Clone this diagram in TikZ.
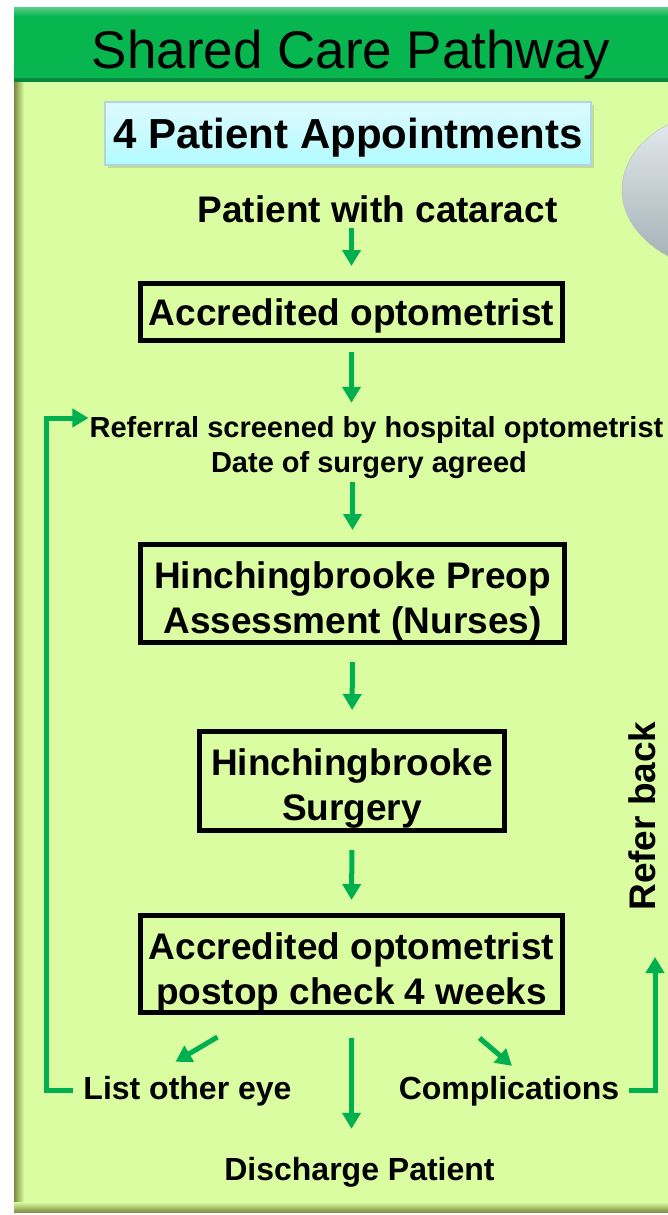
\documentclass[tikz,border=0pt]{standalone}
\usepackage{fontspec}
\setmainfont{Liberation Sans}
\usepackage{tikz}
\usetikzlibrary{calc,positioning,arrows.meta,shadows}

\definecolor{panelgreen}{RGB}{217,253,160}
\definecolor{headgreen}{RGB}{8,182,80}
\definecolor{flowgreen}{RGB}{0,176,80}
\definecolor{apptfill}{RGB}{222,250,255}
\definecolor{apptline}{RGB}{178,214,224}
\definecolor{bubbletop}{RGB}{232,237,239}
\definecolor{bubblebot}{RGB}{160,174,180}

\tikzset{
    stage/.style={draw=black, line width=5pt, inner sep=0pt},
    stagetext/.style={align=center, inner sep=0pt,
        font=\bfseries\fontsize{37}{45}\selectfont},
    bigtext/.style={anchor=base, inner sep=0pt, text height=27pt, text depth=7pt,
        font=\bfseries\fontsize{37}{45}\selectfont},
    smalltext/.style={anchor=base, inner sep=0pt, text height=21pt, text depth=6pt,
        font=\bfseries\fontsize{29}{35}\selectfont},
    endtext/.style={anchor=base, inner sep=0pt, text height=24pt, text depth=7pt,
        font=\bfseries\fontsize{32}{38}\selectfont},
    flow/.style={draw=flowgreen, line width=5pt, -{Triangle[width=18pt,length=16pt]}}
}

\begin{document}
\begin{tikzpicture}[x=1pt,y=-1pt]
        \useasboundingbox (0,0) rectangle (668,1215);
        \clip (0,0) rectangle (668,1215);

        % panel and title bar
        \fill[panelgreen] (14,8) rectangle (680,1212);
        \shade[left color=panelgreen!55!black!70!olive, right color=panelgreen] (14,82) rectangle (24,1212);
        \shade[bottom color=panelgreen!60!black!70!olive, top color=panelgreen] (14,1202) rectangle (680,1212);
        \fill[headgreen] (14,8) rectangle (680,82);
        \shade[top color=headgreen!70!white, bottom color=headgreen] (14,8) rectangle (680,16);
        \fill[headgreen!75!black] (14,78) rectangle (680,82);
        \node[anchor=base, inner sep=0pt, font=\fontsize{53}{60}\selectfont] (title) at (351,68) {Shared Care Pathway};

        % grey bubble on the right
        \shade[top color=bubbletop, bottom color=bubblebot, draw=bubblebot!80, drop shadow={opacity=0.3}]
            (730,190) ellipse (108pt and 80pt);

        \node[draw=apptline, line width=1.5pt, top color=apptfill, bottom color=apptfill!80!cyan,
            minimum width=486pt, minimum height=63pt, inner sep=0pt, text depth=0pt, drop shadow={opacity=0.25},
            font=\bfseries\fontsize{42}{50}\selectfont] (appt) at (348,133.5) {4 Patient Appointments};

        % pathway
        \node[bigtext] (pwc) at (377.5,222) {Patient with cataract};
        \node[stage, minimum width=422pt, minimum height=57pt,
            label={[stagetext, yshift=-4pt]center:Accredited optometrist}] (acc) at (351.5,312) {};
        \node[smalltext] (ref1) at (376.5,437) {Referral screened by hospital optometrist};
        \node[smalltext] (ref2) at (369,472) {Date of surgery agreed};
        \node[stage, minimum width=424pt, minimum height=98pt,
            label={[stagetext, yshift=-8pt]center:Hinchingbrooke Preop\\Assessment (Nurses)}] (preop) at (352.5,593.5) {};
        \node[stage, minimum width=305pt, minimum height=99pt,
            label={[stagetext, yshift=-8pt]center:Hinchingbrooke\\Surgery}] (surg) at (352,781) {};
        \node[stage, minimum width=422pt, minimum height=97pt,
            label={[stagetext, yshift=-8pt]center:Accredited optometrist\\postop check 4 weeks}] (post) at (351.5,964) {};
        \node[endtext] (other) at (187.5,1099) {List other eye};
        \node[endtext] (comp) at (509,1099) {Complications};
        \node[endtext] (disc) at (359.5,1180) {Discharge Patient};
        \node[bigtext, anchor=center, rotate=90] (back) at (645,816) {Refer back};

        \coordinate (loopL) at (46,418);
        \coordinate (loopR) at (655,957);

        \draw[flow, shorten <=-1pt, shorten >=15pt] (pwc.south -| acc.south) -- (acc.north);
        \draw[flow, shorten <=9pt, shorten >=13pt] (acc.south) -- (acc.south |- ref1.north);
        \draw[flow, shorten <=4pt, shorten >=12pt] (preop.north |- ref2.south) -- (preop.north);
        \draw[flow, shorten <=17pt, shorten >=19pt] (preop.south) -- (surg.north);
        \draw[flow, shorten <=17pt, shorten >=13pt] (surg.south) -- (post.north);
        \draw[flow, shorten <=23pt, shorten >=27pt] (post.south) -- (post.south |- disc.north);
        \draw[flow] ([shift={(-134pt,-22pt)}]post.south) -- ([shift={(-12pt,13pt)}]other.north);
        \draw[flow] ([shift={(128pt,-23pt)}]post.south) -- ([shift={(3pt,9pt)}]comp.north);

        % loops back
        \draw[flow, shorten <=10pt, shorten >=1pt] (other.west) -| (loopL) -- (loopL -| ref1.west);
        \draw[flow, shorten <=10pt] (comp.east) -| (loopR);
\end{tikzpicture}
\end{document}
